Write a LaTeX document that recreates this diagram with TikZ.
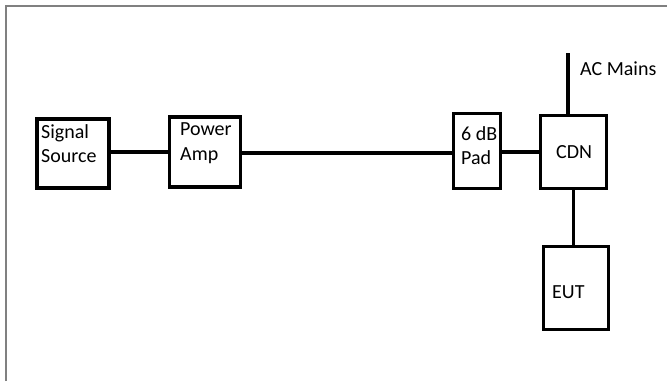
\documentclass[tikz,border=0pt]{standalone}
\usepackage{fontspec}
\setmainfont{Carlito}
\begin{document}
\begin{tikzpicture}[x=1pt,y=-1pt,
  blk/.style={draw=black, line width=3.6pt, rectangle, inner sep=0pt, outer sep=0pt},
  lbl/.style={inner sep=0pt, anchor=west, font=\fontsize{20}{24.5}\selectfont, align=left},
  wire/.style={draw=black, line width=3.2pt}]
\useasboundingbox (0,0) rectangle (667,381);
\draw[line width=1.5pt, draw=black!50] (6,381) -- (6,6) -- (667,6);
% boxes
\node[blk, minimum width=72pt, minimum height=69pt] (ss) at (73,153.5) {};
\node[blk, minimum width=71pt, minimum height=70pt] (pa) at (205,152) {};
\node[blk, minimum width=47pt, minimum height=75pt] (pad) at (477,151) {};
\node[blk, minimum width=66pt, minimum height=73pt] (cdn) at (573.5,152) {};
\node[blk, minimum width=65pt, minimum height=83pt] (eut) at (576,288) {};
% texts
\node[lbl] (sst) at (41,143.5) {Signal\\Source};
\node[lbl] (pat) at (180,143) {Power\\Amp};
\node[lbl] (padt) at (461,145.5) {6 dB\\Pad};
\node[lbl] (cdnt) at (556,152) {CDN};
\node[lbl] (eutt) at (552,292) {EUT};
\node[lbl] (act) at (580,69) {AC Mains};
\coordinate (acm) at (568,53);
% connectors
\draw[wire] (ss.east |- 0,152) -- (pa.west |- 0,152);
\draw[wire] (pa.east |- 0,153) -- (pad.west |- 0,153);
\draw[wire] (pad.east |- 0,152) -- (cdn.west |- 0,152);
\draw[wire] (acm) -- (acm |- cdn.north);
\draw[wire] (cdn.south) -- (cdn.south |- eut.north);
\end{tikzpicture}
\end{document}
